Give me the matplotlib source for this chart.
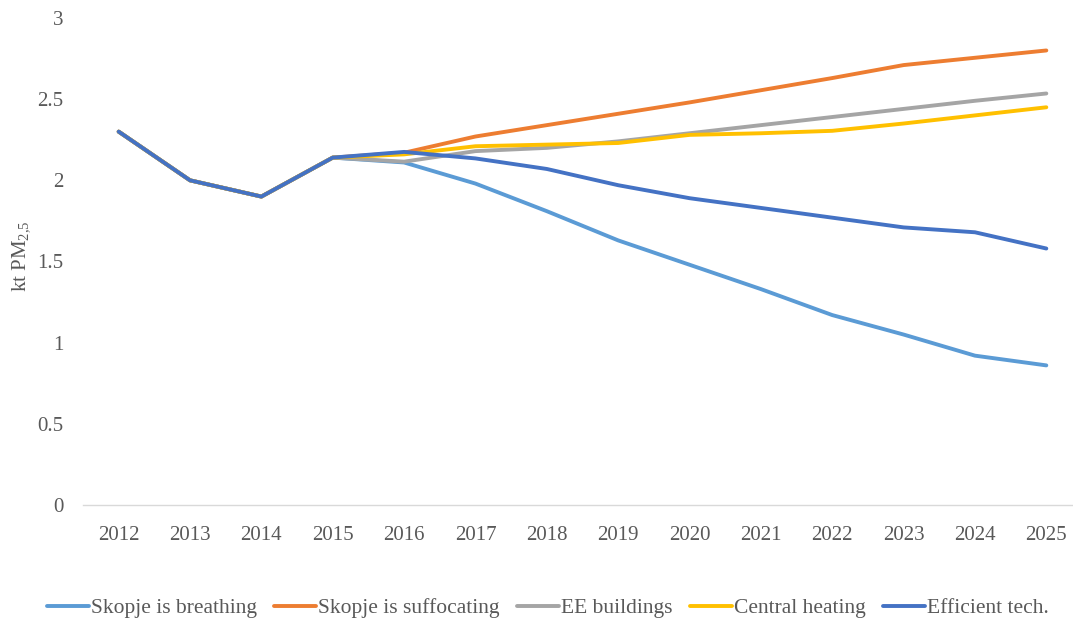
import matplotlib
matplotlib.use("Agg")
from matplotlib import pyplot as plt

years = list(range(2012, 2026))

breathing = [2.30, 2.00, 1.90, 2.14, 2.11, 1.98, 1.81, 1.63, 1.48, 1.33, 1.17, 1.05, 0.92, 0.86]
suffocating = [2.30, 2.00, 1.90, 2.14, 2.17, 2.27, 2.34, 2.41, 2.48, 2.555, 2.63, 2.71, 2.755, 2.80]
ee_buildings = [2.30, 2.00, 1.90, 2.14, 2.115, 2.18, 2.20, 2.24, 2.29, 2.34, 2.39, 2.44, 2.49, 2.535]
central_heating = [2.30, 2.00, 1.90, 2.14, 2.16, 2.21, 2.22, 2.23, 2.28, 2.29, 2.305, 2.35, 2.40, 2.45]
efficient_tech = [2.30, 2.00, 1.90, 2.14, 2.175, 2.135, 2.07, 1.97, 1.89, 1.83, 1.77, 1.71, 1.68, 1.58]

series = [
    ("Skopje is breathing", breathing, "#5B9BD5"),
    ("Skopje is suffocating", suffocating, "#ED7D31"),
    ("EE buildings", ee_buildings, "#A5A5A5"),
    ("Central heating", central_heating, "#FFC000"),
    ("Efficient tech.", efficient_tech, "#4472C4"),
]

plt.rcParams["font.family"] = ["Liberation Serif", "DejaVu Serif"]
plt.rcParams["mathtext.fontset"] = "custom"
plt.rcParams["mathtext.rm"] = "Liberation Serif"
plt.rcParams["mathtext.default"] = "rm"
text_col = "#595959"

fig = plt.figure(figsize=(10.73, 6.22), dpi=100)
ax = fig.add_axes([83 / 1073, 1 - 505 / 622, 999 / 1073, 487 / 622])

for name, vals, col in series:
    ax.plot(years, vals, color=col, lw=2.8, label=name, solid_capstyle="round", solid_joinstyle="round")

ax.set_xlim(2011.5, 2025.5)
ax.set_ylim(0, 3)
ax.set_xticks(years)
ax.set_xticklabels([str(y) for y in years])
ax.set_yticks([0, 0.5, 1, 1.5, 2, 2.5, 3])
ax.set_yticklabels(["0", "0.5", "1", "1.5", "2", "2.5", "3"])

for s in ["top", "right", "left"]:
    ax.spines[s].set_visible(False)
ax.spines["bottom"].set_color("#D9D9D9")
ax.spines["bottom"].set_linewidth(1)
ax.tick_params(axis="both", length=0, colors=text_col, labelsize=15)
ax.tick_params(axis="x", pad=15)
ax.tick_params(axis="y", pad=14)

ax.set_ylabel("kt PM$_{2{,}5}$", color=text_col, fontsize=15)
ax.yaxis.set_label_coords(-0.051, 0.51)

fig.legend(loc="center", bbox_to_anchor=(548 / 1073, 1 - 608 / 622), ncol=5, frameon=False,
           fontsize=15.5, handlelength=1.95, handletextpad=0.1, columnspacing=0.8, labelcolor=text_col)

fig.savefig("out.png", dpi=100)
